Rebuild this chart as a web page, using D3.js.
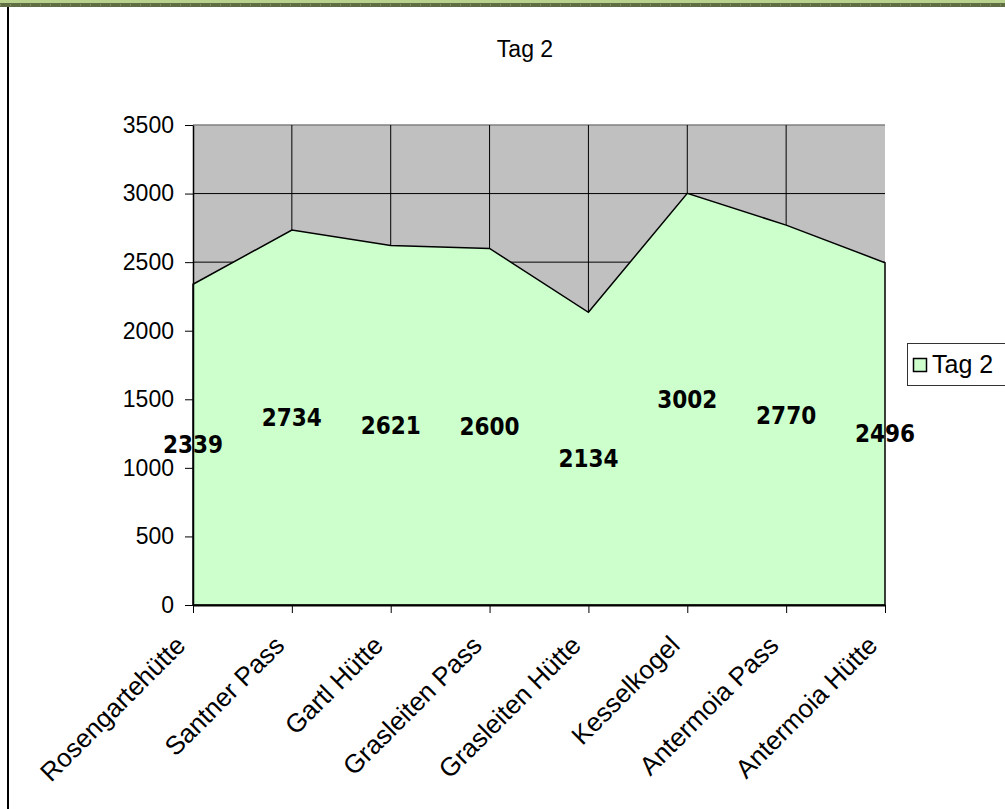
<!DOCTYPE html>
<meta charset="utf-8">
<style>
body{
    margin: 0;
    background: white;
}
text{
    font-family: "Liberation Sans", Arial, sans-serif;
}
.lbl{
    font-family: "DejaVu Sans Condensed", "DejaVu Sans", sans-serif;
    font-stretch: condensed;
    font-weight: bold;
}
</style>
<body>
<script src="https://d3js.org/d3.v7.min.js"></script>
<script>

var width = 1005,
    height = 809;

var categories = ["Rosengartehütte", "Santner Pass", "Gartl Hütte", "Grasleiten Pass",
                  "Grasleiten Hütte", "Kesselkogel", "Antermoia Pass", "Antermoia Hütte"];
var values = [2339, 2734, 2621, 2600, 2134, 3002, 2770, 2496];
var yTicks = [0, 500, 1000, 1500, 2000, 2500, 3000, 3500];
var seriesName = "Tag 2";

var fontSize = 24;

var svg = d3.select("body").append("svg")
    .attr("width", width)
    .attr("height", height);

// frame: green band on top, black line on the left
svg.append("rect").attr("x", 0).attr("y", 0).attr("width", width).attr("height", 3).attr("fill", "#b9d28e");
svg.append("rect").attr("x", 0).attr("y", 3).attr("width", width).attr("height", 4).attr("fill", "#5f6e45");
svg.append("line").attr("x1", 0).attr("x2", width).attr("y1", 5).attr("y2", 5)
    .attr("stroke", "#9fb27a").attr("stroke-dasharray", "1,9");
svg.append("line").attr("x1", 8).attr("x2", 8).attr("y1", 7).attr("y2", height)
    .attr("stroke", "black").attr("stroke-width", 2);

var x = d3.scalePoint()
    .domain(categories)
    .range([193, 885]);

var y = d3.scaleLinear()
    .domain([0, 3500])
    .range([605, 125]);

// plot area
svg.append("rect")
    .attr("x", x.range()[0]).attr("y", y(3500))
    .attr("width", x.range()[1] - x.range()[0]).attr("height", y(0) - y(3500))
    .attr("fill", "#c0c0c0");
svg.append("line")
    .attr("x1", x.range()[0]).attr("x2", x.range()[1])
    .attr("y1", y(3500)).attr("y2", y(3500))
    .attr("stroke", "#808080").attr("stroke-width", 1.5);

svg.selectAll(".hgrid")
    .data(yTicks.slice(1, -1))
  .enter().append("line")
    .attr("class", "hgrid")
    .attr("x1", x.range()[0]).attr("x2", x.range()[1])
    .attr("y1", d => y(d)).attr("y2", d => y(d))
    .attr("stroke", "black");

svg.selectAll(".vgrid")
    .data(categories.slice(1, -1))
  .enter().append("line")
    .attr("class", "vgrid")
    .attr("x1", d => x(d)).attr("x2", d => x(d))
    .attr("y1", y(3500)).attr("y2", y(0))
    .attr("stroke", "black");

var area = d3.area()
    .x((d, i) => x(categories[i]))
    .y0(y(0))
    .y1(d => y(d));

svg.append("path")
    .datum(values)
    .attr("d", area)
    .attr("fill", "#ccffcc")
    .attr("stroke", "black")
    .attr("stroke-width", 1.5)
    .attr("stroke-linejoin", "miter");

// axes
var yAxis = svg.append("g")
    .attr("transform", "translate(" + x.range()[0] + ",0)")
    .call(d3.axisLeft(y).tickValues(yTicks).tickFormat(d3.format("d"))
        .tickSize(8).tickPadding(11).tickSizeOuter(0));
yAxis.select(".domain").attr("stroke-width", 1.5);
yAxis.selectAll("text").attr("font-size", fontSize - 1).attr("fill", "black")
    .attr("font-family", "Liberation Sans, Arial, sans-serif");

var xAxis = svg.append("g")
    .attr("transform", "translate(0," + y(0) + ")")
    .call(d3.axisBottom(x).tickSize(8).tickSizeOuter(0).tickFormat(""));
xAxis.select(".domain").attr("stroke-width", 2);

svg.selectAll(".xlab")
    .data(categories)
  .enter().append("text")
    .attr("class", "xlab")
    .attr("text-anchor", "end")
    .attr("font-size", fontSize + 2)
    .attr("transform", d => "translate(" + (x(d) - 6) + "," + 647 + ") rotate(-45)")
    .text(d => d);

// data labels in the middle of the area
svg.selectAll(".lbl")
    .data(values)
  .enter().append("text")
    .attr("class", "lbl")
    .attr("x", (d, i) => x(categories[i]))
    .attr("y", d => y(d / 2))
    .attr("dy", "0.36em")
    .attr("text-anchor", "middle")
    .attr("font-size", 24)
    .text(d => d);

// title
svg.append("text")
    .attr("x", 525).attr("y", 57)
    .attr("text-anchor", "middle")
    .attr("font-size", fontSize - 1)
    .text(seriesName);

// legend
var legend = svg.append("g");
legend.append("rect")
    .attr("x", 907.5).attr("y", 343.5).attr("width", 110).attr("height", 42)
    .attr("fill", "white").attr("stroke", "#333");
legend.append("rect")
    .attr("x", 913.5).attr("y", 358.5).attr("width", 13).attr("height", 13)
    .attr("fill", "#ccffcc").attr("stroke", "black").attr("stroke-width", 1.5);
legend.append("text")
    .attr("x", 932).attr("y", 373)
    .attr("font-size", fontSize + 1)
    .text(seriesName);
</script>
